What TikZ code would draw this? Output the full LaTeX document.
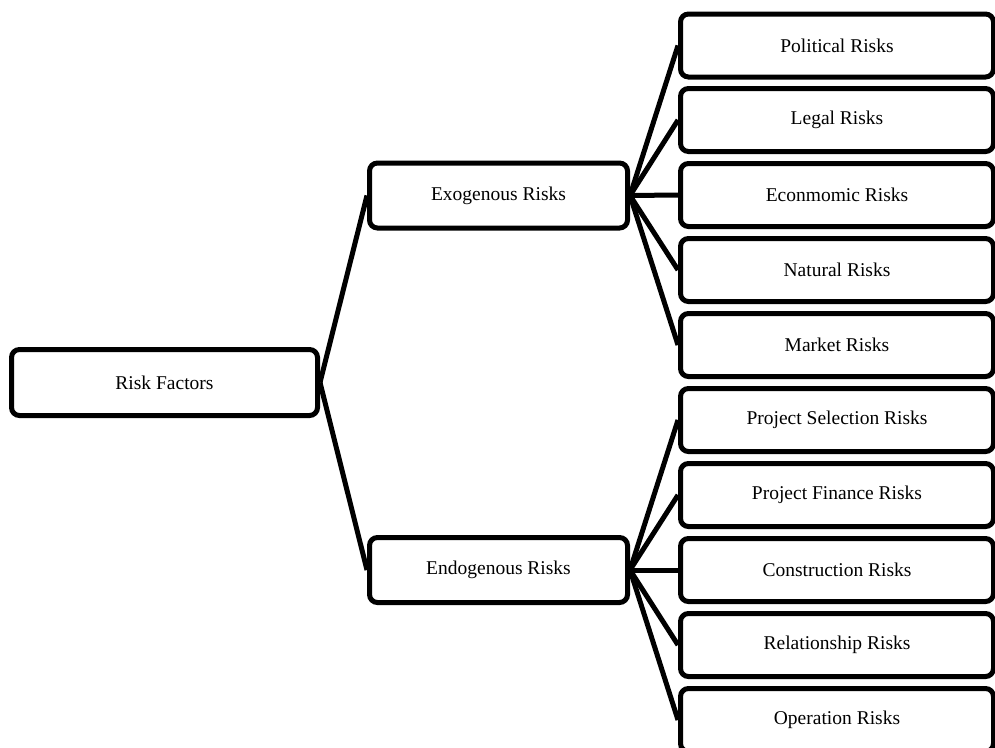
\documentclass[tikz,border=0pt]{standalone}
\usepackage{fontspec}
\setmainfont{Liberation Serif}
\begin{document}
\begin{tikzpicture}[x=1pt,y=-1pt,
  box/.style={draw=black, line width=5pt, rounded corners=8pt, inner sep=0pt,
    font=\fontsize{19.5}{21}\selectfont},
  rootbox/.style={box, minimum width=306pt, minimum height=66pt},
  midbox/.style={box, minimum width=258pt, minimum height=65pt},
  leafbox/.style={box, minimum width=313pt, minimum height=63pt},
  link/.style={draw=black, line width=5pt, line join=round}]
\useasboundingbox (0,0) rectangle (995,747);
\node[rootbox] (root) at (164.5,382.5) {Risk Factors};
\node[midbox] (exo) at (498.5,195.5) {Exogenous Risks};
\node[midbox] (endo) at (498.5,570) {Endogenous Risks};
\node[leafbox] (pol) at (837,45.5) {Political Risks};
\node[leafbox] (leg) at (837,120) {Legal Risks};
\node[leafbox] (eco) at (837,195) {Econmomic Risks};
\node[leafbox] (nat) at (837,270) {Natural Risks};
\node[leafbox] (mar) at (837,345) {Market Risks};
\node[leafbox] (psel) at (837,420) {Project Selection Risks};
\node[leafbox] (pfin) at (837,495) {Project Finance Risks};
\node[leafbox] (con) at (837,570) {Construction Risks};
\node[leafbox] (rel) at (837,645) {Relationship Risks};
\node[leafbox] (ope) at (837,720) {Operation Risks};
\draw[link] (root.east) -- (exo.west);
\draw[link] (root.east) -- (endo.west);
\foreach \t in {pol,leg,eco,nat,mar} \draw[link] (exo.east) -- (\t.west);
\foreach \t in {psel,pfin,con,rel,ope} \draw[link] (endo.east) -- (\t.west);
\end{tikzpicture}
\end{document}
